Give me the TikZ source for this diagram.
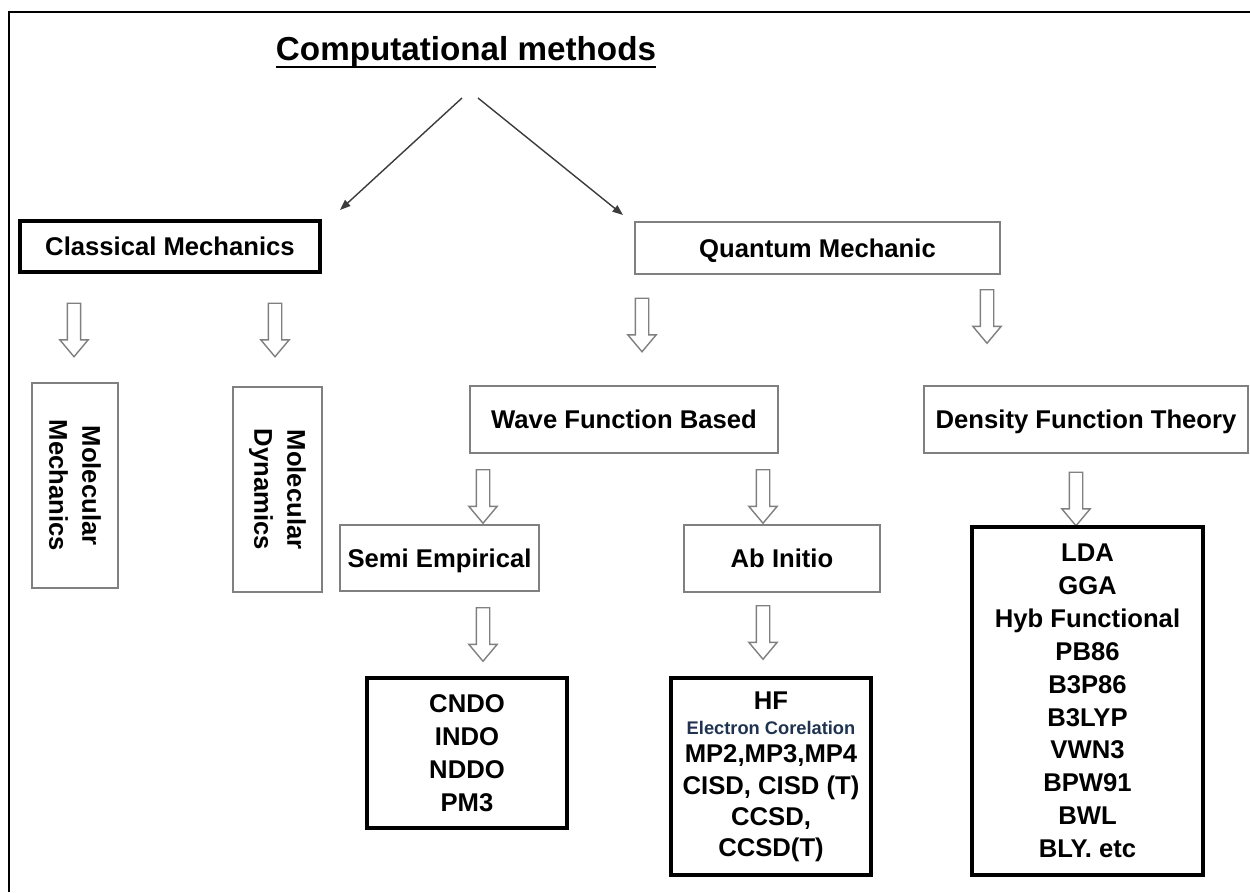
\documentclass[tikz,border=0pt]{standalone}
\usepackage{fontspec}
\setmainfont{Liberation Sans}
\usepackage{xcolor}
\usepackage{tikz}
\usetikzlibrary{arrows.meta,positioning,shapes.arrows}
\definecolor{lineGray}{HTML}{808080}
\definecolor{arrowGray}{HTML}{3C3C3C}
\definecolor{noteNavy}{HTML}{1F3350}
\newcommand{\titlerule}[1]{\setbox0=\hbox{#1}\rlap{\rule[-3.8pt]{\wd0}{1.1pt}}\box0}

\begin{document}
\begin{tikzpicture}[x=0.02cm, y=-0.02cm,
  font=\bfseries\fontsize{14.6}{18.7}\selectfont,
  plainbox/.style={rectangle, draw=lineGray, line width=1pt, inner sep=0pt, align=center},
  boldbox/.style={rectangle, draw=black, line width=2pt, inner sep=0pt, align=center},
  oneline/.style={text height=10.45pt, text depth=0pt},
  hollow/.style={single arrow, draw=lineGray, fill=white, line width=0.8pt, rotate=-90, minimum height=1.07cm, inner xsep=0pt, inner ysep=0.12cm, single arrow head extend=0.15cm, single arrow tip angle=80},
  arrow/.style={-{Triangle[length=6pt,width=4.5pt]}, line width=0.8pt, draw=arrowGray}
]
\useasboundingbox (0,0) rectangle (1250,892);
\draw[line width=1.5pt] (9,892) -- (9,12) -- (1250,12);

\node[anchor=base] (title) at (466,61) {\fontsize{18.9}{22}\selectfont\titlerule{Computational methods}};

% first split
\node[boldbox, oneline, minimum width=6cm, minimum height=1.02cm] (clas) at (170,246.5) {Classical Mechanics};
\node[plainbox, oneline, minimum width=7.3cm, minimum height=1.04cm] (quant) at (817.5,248) {Quantum Mechanic};
\coordinate (splitL) at (462,98);
\coordinate (splitR) at (478,98);
\coordinate (toClas) at (340,210);
\coordinate (toQuant) at (623,215);
\draw[arrow] (splitL) -- (toClas);
\draw[arrow] (splitR) -- (toQuant);

% classical branch
\node[hollow] (mmArrow) at (74,326) {};
\node[hollow] (mdArrow) at (275,326) {};
\node[plainbox, rotate=-90, minimum width=4.1cm, minimum height=1.72cm] (molmech) at (75,485.5) {Molecular\\Mechanics};
\node[plainbox, rotate=-90, minimum width=4.1cm, minimum height=1.78cm] (moldyn) at (277.5,489.5) {Molecular\\Dynamics};

% quantum branch
\node[hollow] (waveArrow) at (642,321) {};
\node[hollow] (dftArrow) at (987,312.5) {};
\node[plainbox, oneline, minimum width=6.16cm, minimum height=1.34cm] (wave) at (624,419.5) {Wave Function Based};
\node[plainbox, oneline, minimum width=6.48cm, minimum height=1.34cm] (dft) at (1086,419.5) {Density Function Theory};

\node[hollow] (semiArrow) at (483,492.5) {};
\node[hollow] (abArrow) at (763,492.5) {};
\node[hollow] (listArrow) at (1076,495) {};
\node[plainbox, oneline, minimum width=3.98cm, minimum height=1.32cm] (semi) at (439.5,558) {Semi Empirical};
\node[plainbox, oneline, minimum width=3.92cm, minimum height=1.34cm] (abinit) at (782,558.5) {Ab Initio};

\node[hollow] (cndoArrow) at (483,630.5) {};
\node[hollow] (hfArrow) at (763,628.5) {};

% method lists
\node[boldbox, minimum width=4cm, minimum height=3cm] (cndo) at (467,753) {CNDO\\INDO\\NDDO\\PM3};
\node[boldbox, minimum width=4cm, minimum height=3.94cm] (hf) at (771,776.5) {HF\\[-4.5pt]{\color{noteNavy}\fontsize{10.4}{12}\selectfont Electron Corelation}\\[-2.3pt]MP2,MP3,MP4\\[-1pt]CISD, CISD (T)\\[-1pt]CCSD,\\[-1pt]CCSD(T)};
\node[boldbox, minimum width=4.62cm, minimum height=6.96cm] (dftlist) at (1087.5,701) {LDA\\GGA\\Hyb Functional\\PB86\\B3P86\\B3LYP\\VWN3\\BPW91\\BWL\\BLY. etc};
\end{tikzpicture}
\end{document}
